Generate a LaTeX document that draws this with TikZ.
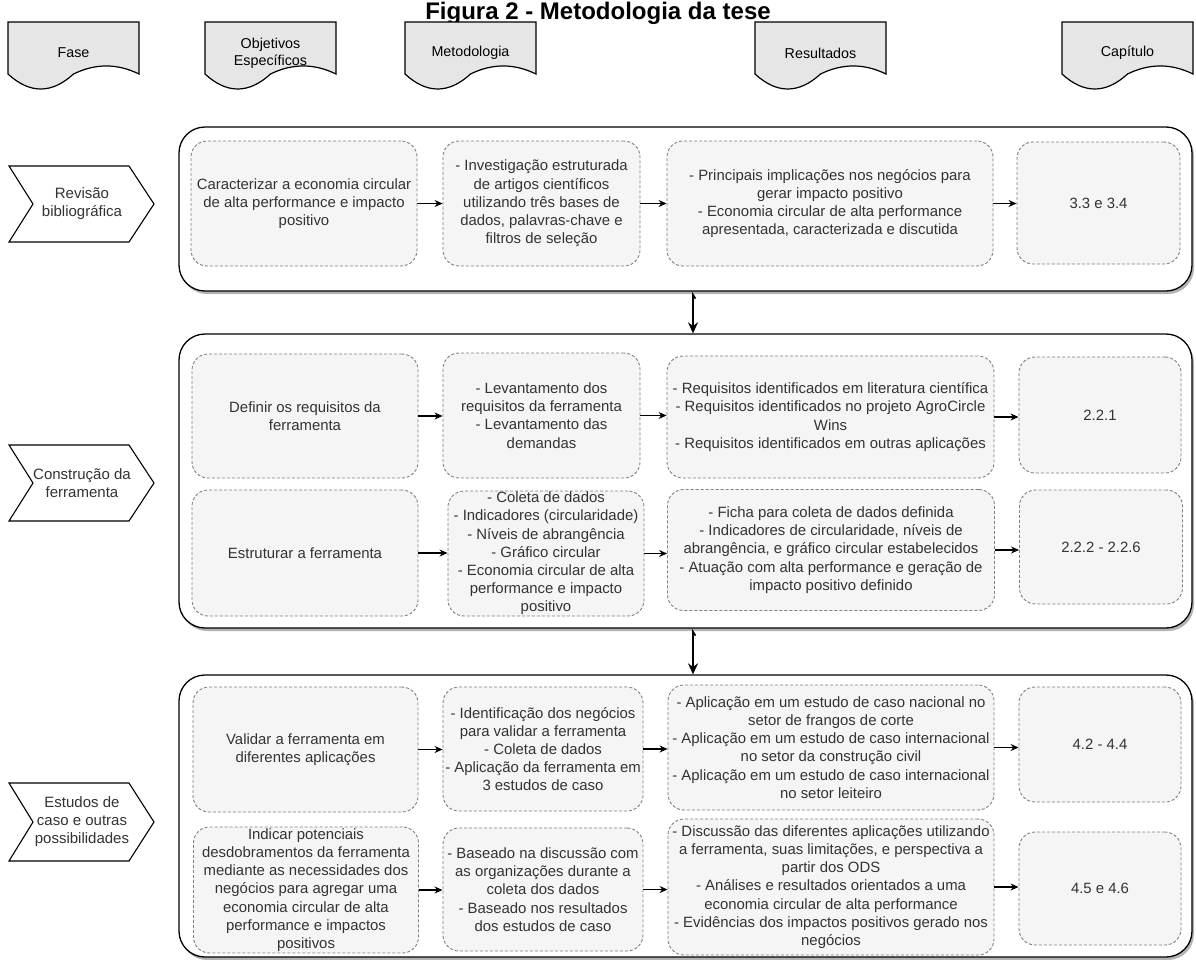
\documentclass[tikz,border=0pt]{standalone}
\usepackage{fontspec}
\setmainfont{Liberation Sans}
\usetikzlibrary{arrows.meta,shadows}
\definecolor{boxfill}{HTML}{F5F5F5}
\definecolor{boxline}{HTML}{808080}
\definecolor{txt}{HTML}{333333}
\definecolor{hdrfill}{HTML}{E6E6E6}
\tikzset{
 inbox/.style={draw=boxline, fill=boxfill, dash pattern=on 3pt off 2pt, rounded corners=16pt, line width=0.9pt, align=center, text=txt, font=\fontsize{14.9}{18.2}\selectfont, inner sep=0pt},
 container/.style={draw=black, fill=white, rounded corners=26pt, line width=1.3pt, drop shadow={shadow xshift=2pt, shadow yshift=-3pt, fill=black!50, opacity=0.6}, inner sep=0pt},
 hdr/.style={draw=black, fill=hdrfill, line width=1.2pt},
 hdrtext/.style={font=\fontsize{14.3}{17}\selectfont, align=center, text=black},
 chev/.style={draw=black, fill=white, line width=1.1pt},
 chevtext/.style={font=\fontsize{15}{18}\selectfont, align=center, text=txt},
 arr/.style={-{Stealth[length=8pt,width=7pt]}, line width=1.2pt},
 varr/.style={-{Stealth[length=11pt,width=10pt]}, line width=1.6pt},
 titletext/.style={font=\bfseries\fontsize{24}{27}\selectfont, text=black},
}
% header document shape: left x, width 131, top 22
\newcommand{\hdrshape}[1]{%
 \begin{scope}[shift={(#1,22)}]
 \draw[hdr] (0,0) -- (131,0) -- (131,52) .. controls (109.2,41.3) and (87.3,41.3) .. (65.5,52) .. controls (43.7,72) and (21.8,72) .. (0,52) -- cycle;
 \end{scope}}
\newcommand{\chevshape}[2]{% center y, half height
 \draw[chev] (9,#1-#2) -- (129,#1-#2) -- (154,#1) -- (129,#1+#2) -- (9,#1+#2) -- (33,#1) -- cycle;}
\begin{document}
\begin{tikzpicture}[x=1pt,y=-1pt]
\useasboundingbox (0,0) rectangle (1196,959);

% title
\node[titletext, anchor=base] (title) at (598,19) {Figura 2 - Metodologia da tese};

% headers
\hdrshape{8}
\hdrshape{205}
\hdrshape{405}
\hdrshape{755}
\hdrshape{1062}
\node[hdrtext] (hFase) at (73.5,53) {Fase};
\node[hdrtext] (hObj) at (270.5,53) {Objetivos\\Específicos};
\node[hdrtext] (hMet) at (470.5,53) {Metodologia};
\node[hdrtext] (hRes) at (820.5,53) {Resultados};
\node[hdrtext] (hCap) at (1127.5,53) {Capítulo};

% chevrons
\chevshape{204}{38}
\chevshape{483}{38}
\chevshape{822}{39}
\node[chevtext] (f1) at (82,204) {Revisão\\bibliográfica};
\node[chevtext] (f2) at (82,483) {Construção da\\ferramenta};
\node[chevtext] (f3) at (82,822) {Estudos de\\caso e outras\\possibilidades};

% containers
\node[container, minimum width=1013pt, minimum height=164pt] (cont1) at (685.5,209) {};
\node[container, minimum width=1013pt, minimum height=294pt] (cont2) at (685.5,481) {};
\node[container, minimum width=1013pt, minimum height=282pt] (cont3) at (685.5,816) {};

% section 1
\node[inbox, minimum width=226pt, minimum height=125pt] (o1) at (304,203.5) {Caracterizar a economia circular\\de alta performance e impacto\\positivo};
\node[inbox, minimum width=197pt, minimum height=125pt] (m1) at (541.5,203.5) {- Investigação estruturada\\de artigos científicos\\utilizando três bases de\\dados, palavras-chave e\\filtros de seleção};
\node[inbox, minimum width=326pt, minimum height=125pt] (r1) at (830,203.5) {- Principais implicações nos negócios para\\gerar impacto positivo\\- Economia circular de alta performance\\apresentada, caracterizada e discutida};
\node[inbox, minimum width=163pt, minimum height=122pt] (c1) at (1098.5,203) {3.3 e 3.4};

% section 2
\node[inbox, minimum width=226pt, minimum height=124pt] (o2a) at (305,416) {Definir os requisitos da\\ferramenta};
\node[inbox, minimum width=197pt, minimum height=125pt] (m2a) at (541.5,415.5) {- Levantamento dos\\requisitos da ferramenta\\- Levantamento das\\demandas};
\node[inbox, minimum width=327pt, minimum height=122pt] (r2a) at (830.5,417) {- Requisitos identificados em literatura científica\\- Requisitos identificados no projeto AgroCircle\\Wins\\- Requisitos identificados em outras aplicações};
\node[inbox, minimum width=162pt, minimum height=116pt] (c2a) at (1100,415) {2.2.1};
\node[inbox, minimum width=226pt, minimum height=126pt] (o2b) at (305,553) {Estruturar a ferramenta};
\node[inbox, minimum width=196pt, minimum height=125pt] (m2b) at (546,553.5) {- Coleta de dados\\- Indicadores (circularidade)\\- Níveis de abrangência\\- Gráfico circular\\- Economia circular de alta\\performance e impacto\\positivo};
\node[inbox, minimum width=327pt, minimum height=121pt] (r2b) at (831,550) {- Ficha para coleta de dados definida\\- Indicadores de circularidade, níveis de\\abrangência, e gráfico circular estabelecidos\\- Atuação com alta performance e geração de\\impacto positivo definido};
\node[inbox, minimum width=163pt, minimum height=114pt] (c2b) at (1101,547) {2.2.2 - 2.2.6};

% section 3
\node[inbox, minimum width=225pt, minimum height=125pt] (o3a) at (305.5,749.5) {Validar a ferramenta em\\diferentes aplicações};
\node[inbox, minimum width=200pt, minimum height=124pt] (m3a) at (543,749) {- Identificação dos negócios\\para validar a ferramenta\\- Coleta de dados\\- Aplicação da ferramenta em\\3 estudos de caso};
\node[inbox, minimum width=326pt, minimum height=125pt] (r3a) at (831,747.5) {- Aplicação em um estudo de caso nacional no\\setor de frangos de corte\\- Aplicação em um estudo de caso internacional\\no setor da construção civil\\- Aplicação em um estudo de caso internacional\\no setor leiteiro};
\node[inbox, minimum width=162pt, minimum height=115pt] (c3a) at (1100,744.5) {4.2 - 4.4};
\node[inbox, minimum width=225pt, minimum height=126pt] (o3b) at (306,890) {Indicar potenciais\\desdobramentos da ferramenta\\mediante as necessidades dos\\negócios para agregar uma\\economia circular de alta\\performance e impactos\\positivos};
\node[inbox, minimum width=200pt, minimum height=123pt] (m3b) at (543,889.5) {- Baseado na discussão com\\as organizações durante a\\coleta dos dados\\- Baseado nos resultados\\dos estudos de caso};
\node[inbox, minimum width=326pt, minimum height=136pt] (r3b) at (831,887) {- Discussão das diferentes aplicações utilizando\\a ferramenta, suas limitações, e perspectiva a\\partir dos ODS\\- Análises e resultados orientados a uma\\economia circular de alta performance\\- Evidências dos impactos positivos gerado nos\\negócios};
\node[inbox, minimum width=162pt, minimum height=113pt] (c3b) at (1100,888.5) {4.5 e 4.6};

% horizontal connectors
\foreach \a/\b in {o1/m1,m1/r1,r1/c1,o2a/m2a,m2a/r2a,r2a/c2a,o2b/m2b,m2b/r2b,r2b/c2b,o3a/m3a,m3a/r3a,r3a/c3a,o3b/m3b,m3b/r3b,r3b/c3b}{
 \draw[arr] (\a.east) -- (\a.east -| \b.west);
}

% vertical connectors
\draw[varr] ([xshift=10pt,yshift=-7pt]cont1.south) -- ([xshift=7.5pt,yshift=-3pt]cont1.south) -- ([xshift=7.5pt]cont2.north);
\draw[varr] ([xshift=10pt,yshift=-7pt]cont2.south) -- ([xshift=7.5pt,yshift=-3pt]cont2.south) -- ([xshift=7.5pt]cont3.north);
\end{tikzpicture}
\end{document}
